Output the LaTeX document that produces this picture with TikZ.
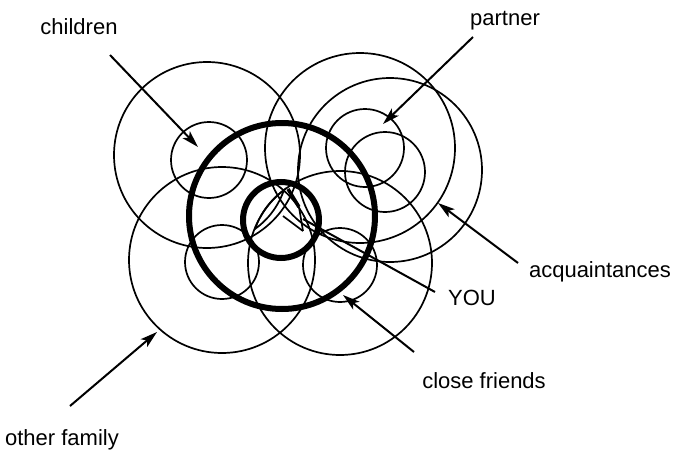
\documentclass[tikz,border=0pt]{standalone}
\usepackage{fontspec}
\setmainfont{Liberation Sans}
\usetikzlibrary{arrows.meta}
\begin{document}
\begin{tikzpicture}[x=1pt,y=-1pt,
  ring/.style={line width=1.7pt},
  boldring/.style={line width=6pt},
  lbl/.style={font=\fontsize{22}{25}\selectfont, inner sep=0pt},
  pointer/.style={line width=2pt, -{Stealth[length=17pt,width=10pt,inset=4pt]}}]
\useasboundingbox (0,0) rectangle (680,455);
% big circles
\draw[ring] (207,155) circle[radius=93pt];
\draw[ring] (360,148) circle[radius=95pt];
\draw[ring] (390,170) circle[radius=92pt];
\draw[ring] (222,260) circle[radius=93pt];
\draw[ring] (340,263) circle[radius=92pt];
% small circles
\draw[ring] (209,160) circle[radius=38pt];
\draw[ring] (365,148) circle[radius=39pt];
\draw[ring] (385,172) circle[radius=40pt];
\draw[ring] (222,262) circle[radius=37pt];
\draw[ring] (340,265) circle[radius=37pt];
% thick rings
\draw[boldring] (282,216) circle[radius=93pt];
\draw[boldring] (281,220) circle[radius=38pt];
% inside the centre
\draw[ring] (255,229) .. controls (260.7,213) and (270.3,200) .. (284,190)
                      .. controls (278.3,206) and (268.7,219) .. (255,229) -- cycle;
\draw[line width=3.5pt] (288,189) -- (299,207);
\draw[ring] (299,207) -- (303,231);
\draw[ring] (283,216) -- (303,231);
% labels
\node[lbl] (children) at (79,27) {children};
\node[lbl] (partner) at (505,21) {partner};
\node[lbl] (acq) at (600,272) {acquaintances};
\node[lbl] (you) at (472,298) {YOU};
\node[lbl] (close) at (484,381) {close friends};
\node[lbl] (other) at (62,440) {other family};
% arrow ends
\coordinate (chT) at (110,55);  \coordinate (chH) at (198,147);
\coordinate (paT) at (473,37);  \coordinate (paH) at (383,124);
\coordinate (acT) at (518,263); \coordinate (acH) at (438,203);
\coordinate (yoT) at (435,292); \coordinate (yoH) at (303,219);
\coordinate (cfT) at (414,352); \coordinate (cfH) at (343,295);
\coordinate (ofT) at (70,406);  \coordinate (ofH) at (157,332);
\draw[pointer] (chT) -- (chH);
\draw[pointer] (paT) -- (paH);
\draw[pointer] (acT) -- (acH);
\draw[line width=2pt] (yoT) -- (yoH);
\draw[pointer] (cfT) -- (cfH);
\draw[pointer] (ofT) -- (ofH);
\end{tikzpicture}
\end{document}
